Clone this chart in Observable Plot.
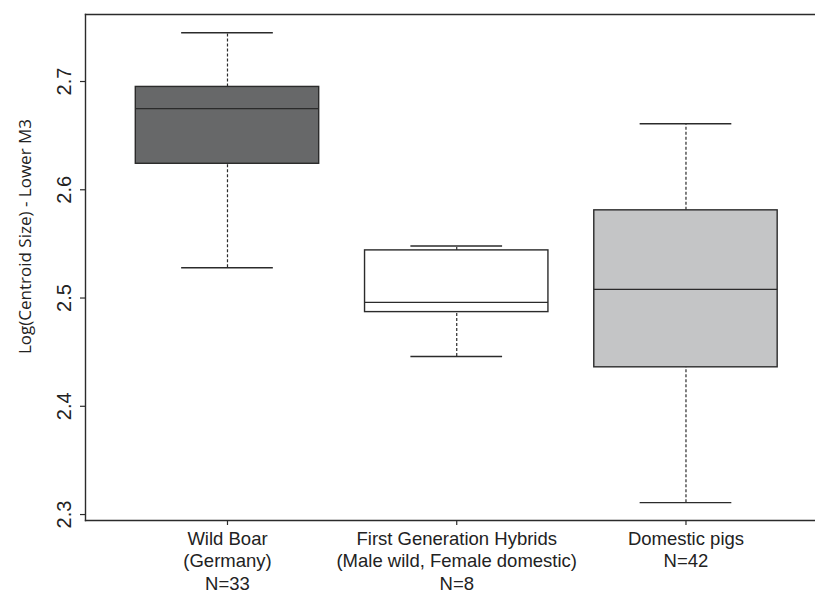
<!DOCTYPE html>
<html>
<head>
<meta charset="utf-8">
<script src="https://cdn.jsdelivr.net/npm/d3@7"></script>
<script src="https://cdn.jsdelivr.net/npm/@observablehq/plot@0.6"></script>
<style>
  html, body { margin: 0; padding: 0; background: #fff; }
  #chart svg { display: block; overflow: visible; }
</style>
</head>
<body>
<div id="chart"></div>
<script>
const groups = ["Wild Boar", "First Generation Hybrids", "Domestic pigs"];
const groupLabels = [
  "Wild Boar\n(Germany)\nN=33",
  "First Generation Hybrids\n(Male wild, Female domestic)\nN=8",
  "Domestic pigs\nN=42"
];
const lowerWhisker = [2.528, 2.446, 2.311];
const q1 = [2.624, 2.487, 2.436];
const median = [2.675, 2.496, 2.508];
const q3 = [2.695, 2.544, 2.581];
const upperWhisker = [2.745, 2.548, 2.661];
const boxFill = ["#676869", "#ffffff", "#c4c5c6"];
const yTicks = [2.3, 2.4, 2.5, 2.6, 2.7];
const yTitle = "Log(Centroid Size) - Lower M3";

const data = groups.map((g, i) => ({
  group: g, pos: i + 1, label: groupLabels[i],
  lo: lowerWhisker[i], q1: q1[i], med: median[i], q3: q3[i], hi: upperWhisker[i],
  fill: boxFill[i]
}));

const halfBox = 0.4, halfCap = 0.2;
const ink = "#2b2b2b";

const chart = Plot.plot({
  width: 815,
  height: 593,
  marginLeft: 85,
  marginRight: 0,
  marginTop: 14,
  marginBottom: 73,
  x: { type: "linear", domain: [0.3806, 3.565] },
  y: { domain: [2.2945, 2.7619] },
  style: { background: "#fff" },
  marks: [
    // whiskers (dashed)
    Plot.ruleX(data, { x: "pos", y1: "q3", y2: "hi", stroke: ink, strokeWidth: 1.2, strokeDasharray: "3,2" }),
    Plot.ruleX(data, { x: "pos", y1: "lo", y2: "q1", stroke: ink, strokeWidth: 1.2, strokeDasharray: "3,2" }),
    // staples
    Plot.ruleY(data, { y: "hi", x1: d => d.pos - halfCap, x2: d => d.pos + halfCap, stroke: ink, strokeWidth: 1.4 }),
    Plot.ruleY(data, { y: "lo", x1: d => d.pos - halfCap, x2: d => d.pos + halfCap, stroke: ink, strokeWidth: 1.4 }),
    // boxes
    Plot.rect(data, { x1: d => d.pos - halfBox, x2: d => d.pos + halfBox, y1: "q1", y2: "q3", fill: d => d.fill, stroke: ink, strokeWidth: 1.4 }),
    // medians
    Plot.ruleY(data, { y: "med", x1: d => d.pos - halfBox, x2: d => d.pos + halfBox, stroke: ink, strokeWidth: 1.4 }),
    // frame (left, top, bottom; right side is cropped)
    Plot.frame({ anchor: "left", stroke: ink, strokeWidth: 1.4 }),
    Plot.frame({ anchor: "top", stroke: ink, strokeWidth: 1.4 }),
    Plot.frame({ anchor: "bottom", stroke: ink, strokeWidth: 1.4 }),
    // y axis ticks
    Plot.axisY({ ticks: yTicks, tickFormat: () => "", tickSize: 5, stroke: ink, strokeWidth: 1.2, label: null }),
    Plot.text(yTicks, {
      y: d => d, text: d => d.toFixed(1), frameAnchor: "left", dx: -15,
      rotate: -90, textAnchor: "middle", lineAnchor: "bottom",
      fontSize: 20, fontFamily: "Liberation Sans, Arial, sans-serif", fill: "#222"
    }),
    // x axis ticks
    Plot.axisX({ ticks: [1, 2, 3], tickFormat: () => "", tickSize: 5, stroke: ink, strokeWidth: 1.2, label: null }),
    Plot.text(data, {
      x: "pos", text: "label", frameAnchor: "bottom", dy: 9, lineAnchor: "top",
      lineHeight: 1.2, textAnchor: "middle",
      fontSize: 18.5, fontFamily: "Liberation Sans, Arial, sans-serif", fill: "#222"
    }),
    // y title
    Plot.text([yTitle], {
      text: d => d, frameAnchor: "left", dx: -55, dy: -31, rotate: -90,
      textAnchor: "middle", lineAnchor: "bottom",
      fontSize: 17, fontFamily: "Open Sans, Noto Sans, sans-serif", fill: "#222"
    })
  ]
});
document.getElementById("chart").appendChild(chart);
</script>
</body>
</html>
